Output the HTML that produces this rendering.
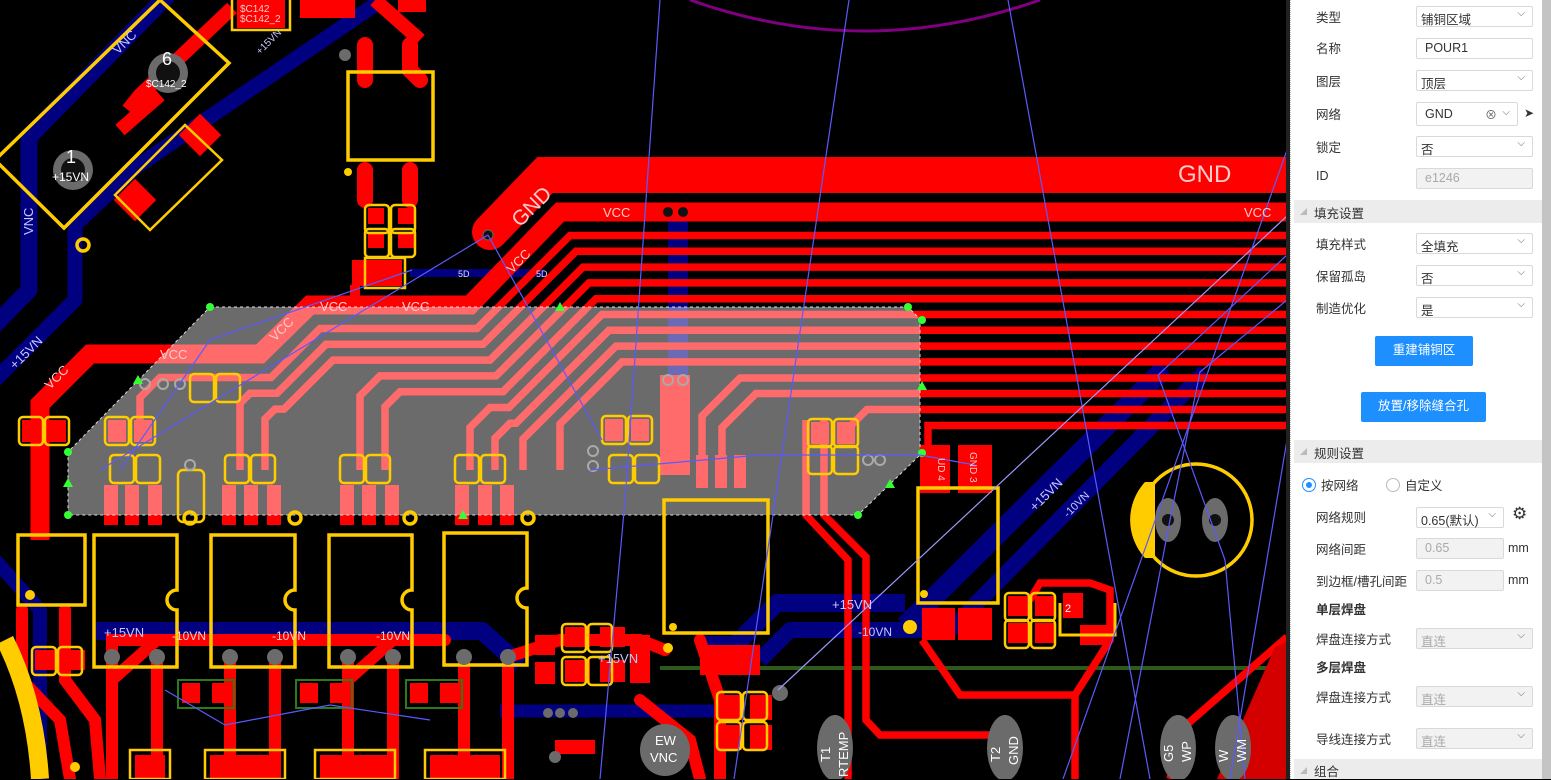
<!DOCTYPE html>
<html><head><meta charset="utf-8"><style>
html,body{margin:0;padding:0;width:1551px;height:779px;overflow:hidden;background:#000;}
#cv{position:absolute;left:0;top:0;}
#panel{position:absolute;left:1290px;top:0;width:252px;height:779px;background:#fff;border-left:1px dotted #bbb;font-family:"Liberation Sans","Noto Sans CJK SC",sans-serif;font-size:12.5px;color:#333;}
#sb{position:absolute;left:1542px;top:0;width:9px;height:779px;background:#c4c4c4;}
.l{position:absolute;left:25px;margin-top:-3px;}
.b{position:absolute;left:125px;width:117px;height:21px;border:1px solid #d9d9d9;border-radius:2px;box-sizing:border-box;padding:2px 0 0 4px;background:#fff;}
.b.d{background:#f2f2f2;color:#aaa;}
.ar{position:absolute;right:7px;top:1px;font-size:10px;color:#666;}
.h{position:absolute;left:3px;width:249px;height:23px;background:#ececec;}
.h span{position:absolute;left:20px;top:3px;}
.h i{position:absolute;left:6px;top:8px;width:0;height:0;border-left:7px solid transparent;border-bottom:7px solid #bbb;}
.btn{position:absolute;background:#1e8fff;color:#fff;text-align:center;border-radius:2px;line-height:29px;}
.bd{font-weight:bold;}
</style></head><body>
<svg id="cv" width="1290" height="779" viewBox="0 0 1290 779" font-family="Liberation Sans, sans-serif">
<defs>
<g id="pp"><rect x="0" y="0" width="18" height="22" fill="#f00"/><rect x="26" y="0" width="18" height="22" fill="#f00"/></g>
<g id="ppo"><rect x="-3" y="-3" width="24" height="28" rx="4" fill="none" stroke="#ffcc00" stroke-width="2.5"/><rect x="23" y="-3" width="24" height="28" rx="4" fill="none" stroke="#ffcc00" stroke-width="2.5"/></g>
</defs>
<rect width="1290" height="779" fill="#000"/>
<path d="M690,0 Q865,62 1040,0" fill="none" stroke="#800080" stroke-width="3"/>
<g fill="none" stroke="#000080" stroke-linejoin="round">
<polyline points="168,-5 29,137 29,290 -10,330" stroke-width="17"/>
<polyline points="385,-2 136,167 75,225 75,300 -5,380" stroke-width="15"/>
<polyline points="1165,368 905,626" stroke-width="20"/>
<polyline points="1205,372 950,630 790,630 760,660" stroke-width="16"/>
<polyline points="905,603 777,603 735,645 700,645" stroke-width="18"/>
<polyline points="94,631 482,631 520,665" stroke-width="18"/>
<polyline points="500,711 720,711" stroke-width="13"/>
<polyline points="410,273 545,273" stroke-width="8"/>
<polyline points="-5,560 40,610 40,779" stroke-width="14"/>
<rect x="668" y="212" width="20" height="258" fill="#000080" stroke="none"/>
</g>
<line x1="660" y1="668" x2="1290" y2="668" stroke="#2d5a1a" stroke-width="4"/>
<g fill="none" stroke="#f00" stroke-linejoin="miter">
<polyline points="1300,175 545,175 490,232" stroke-width="36" stroke-linecap="round"/>
<polyline points="1300,212 560,212 470,305 310,305 260,354 90,354 40,404 40,540" stroke-width="19"/>
<g stroke-width="7.5">
<polyline points="1300,235.5 570,235.5 477,328.5 320,328.5 271,377.5 160,377.5 140,397.5 140,440"/>
<polyline points="1300,251.3 576,251.3 483,344.3 326,344.3 277,393.3 250,393.3 240,403.3 240,470"/>
<polyline points="1300,267.1 583,267.1 490,360.1 333,360.1 284,409.1 275,409.1 265,419 265,470"/>
<polyline points="1300,282.9 589,282.9 496,375.9 380,375.9 360,395.9 360,470"/>
<polyline points="1300,298.7 596,298.7 503,391.7 400,391.7 385,406.7 385,470"/>
<polyline points="1300,314.5 602,314.5 509,407.5 490,407.5 470,427.5 470,470"/>
<polyline points="1300,330.3 609,330.3 516,423.3 510,423.3 495,438.3 495,470"/>
<polyline points="1300,346.1 616,346.1 523,439.1 523,470"/>
<polyline points="1300,361.9 622,361.9 560,424 560,470"/>
<polyline points="1300,378 740,378 702,416 702,470"/>
<polyline points="1300,393.5 756,393.5 722,427.5 722,470"/>
<polyline points="1300,409.5 867,409.5 850,426.5 850,440"/>
<polyline points="1300,425.5 928,425.5 928,450"/>
<polyline points="806,420 806,515 848,560 848,779"/>
<polyline points="824,420 824,515 866,557 866,720 880,735 1000,735"/>
<polyline points="922,640 960,695 1075,695 1075,779"/>
<polyline points="1075,695 1110,640 1110,590 1090,583 1040,583 1030,600"/>
<polyline points="1287,637 1184,727 1170,779"/>
</g>
<g stroke-width="12" stroke-linecap="round">
<polyline points="112,657 112,640 445,640"/>
<polyline points="112,657 112,779"/><polyline points="157,657 157,779"/><polyline points="230,657 230,779"/><polyline points="275,657 275,779"/>
<polyline points="348,657 348,779"/><polyline points="393,657 393,779"/><polyline points="464,657 464,779"/><polyline points="508,657 508,779"/>
<polyline points="157,640 112,680"/><polyline points="393,640 348,680"/>
<polyline points="22,610 22,680 60,720 70,779"/><polyline points="65,610 65,680 95,720 100,779"/>
<polyline points="508,657 560,640 640,640 665,650"/>
<polyline points="700,640 720,700 720,779"/>
<polyline points="640,700 690,740 700,779"/>
</g>
<polyline points="232,8 140,95 128,110" stroke-width="14"/>
<polyline points="160,95 120,130" stroke-width="14"/>
<polyline points="365,45 365,80" stroke-width="16" stroke-linecap="round"/>
<polyline points="410,45 410,70 420,80" stroke-width="16" stroke-linecap="round"/>
<polyline points="365,170 365,200" stroke-width="16" stroke-linecap="round"/>
<polyline points="410,170 410,200" stroke-width="16" stroke-linecap="round"/>
<polyline points="375,0 420,40" stroke-width="14"/>
<polyline points="355,285 355,300" stroke-width="10"/>
</g>
<g fill="#f00">
<rect x="237" y="0" width="48" height="28"/><rect x="398" y="0" width="28" height="12"/><rect x="300" y="0" width="55" height="18"/>
<rect x="185" y="120" width="30" height="30" transform="rotate(45 200 135)"/>
<rect x="120" y="185" width="30" height="30" transform="rotate(45 135 200)"/>
<rect x="352" y="260" width="50" height="26"/>
<rect x="368" y="208" width="16" height="16"/><rect x="398" y="208" width="16" height="16"/>
<rect x="368" y="232" width="16" height="16"/><rect x="398" y="232" width="16" height="16"/>
<rect x="104" y="485" width="14" height="40"/><rect x="125" y="485" width="14" height="40"/><rect x="148" y="485" width="14" height="40"/>
<rect x="222" y="485" width="14" height="40"/><rect x="244" y="485" width="14" height="40"/><rect x="267" y="485" width="14" height="40"/>
<rect x="340" y="485" width="14" height="40"/><rect x="362" y="485" width="14" height="40"/><rect x="385" y="485" width="14" height="40"/>
<rect x="455" y="485" width="14" height="40"/><rect x="478" y="485" width="14" height="40"/><rect x="500" y="485" width="14" height="40"/>
<rect x="660" y="375" width="30" height="100"/>
<rect x="696" y="455" width="12" height="33"/><rect x="715" y="455" width="12" height="33"/><rect x="734" y="455" width="12" height="33"/>
<rect x="920" y="445" width="30" height="48"/><rect x="958" y="445" width="34" height="48"/>
<rect x="922" y="608" width="33" height="32"/><rect x="958" y="608" width="34" height="32"/>
<rect x="1008" y="596" width="20" height="20"/><rect x="1035" y="596" width="20" height="20"/>
<rect x="1008" y="623" width="20" height="20"/><rect x="1035" y="623" width="20" height="20"/>
<rect x="1063" y="593" width="20" height="25"/>
<rect x="1080" y="625" width="30" height="20"/>
<polygon points="1217,779 1275,647 1290,640 1290,779" fill="#d40000"/>
<rect x="182" y="683" width="18" height="20"/><rect x="212" y="683" width="18" height="20"/>
<rect x="300" y="683" width="18" height="20"/><rect x="330" y="683" width="18" height="20"/>
<rect x="410" y="683" width="18" height="20"/><rect x="440" y="683" width="18" height="20"/>
<rect x="535" y="635" width="20" height="20"/><rect x="535" y="662" width="20" height="22"/>
<rect x="565" y="627" width="25" height="20"/><rect x="600" y="627" width="25" height="20"/>
<rect x="565" y="660" width="25" height="22"/><rect x="600" y="660" width="25" height="22"/>
<rect x="630" y="635" width="20" height="48"/>
<rect x="720" y="695" width="22" height="25"/><rect x="750" y="695" width="22" height="25"/>
<rect x="720" y="725" width="22" height="25"/><rect x="750" y="725" width="22" height="25"/>
<rect x="135" y="755" width="30" height="24"/><rect x="210" y="755" width="70" height="24"/><rect x="320" y="755" width="70" height="24"/><rect x="430" y="755" width="70" height="24"/>
<rect x="555" y="740" width="40" height="14"/><rect x="35" y="650" width="50" height="20"/>
<rect x="700" y="645" width="60" height="30"/>
<rect x="22" y="420" width="18" height="22"/><rect x="48" y="420" width="18" height="22"/>
<rect x="108" y="420" width="18" height="22"/><rect x="134" y="420" width="18" height="22"/>
<rect x="605" y="419" width="18" height="22"/><rect x="631" y="419" width="18" height="22"/>
<rect x="811" y="422" width="18" height="22"/><rect x="837" y="422" width="18" height="22"/>
</g>
<polygon points="210,307 908,307 920,319 920,455 858,515 68,515 68,452" fill="#fff" fill-opacity="0.42" stroke="#ddd" stroke-width="1" stroke-dasharray="3,3"/>
<g>
<use href="#ppo" x="113" y="458"/><use href="#ppo" x="228" y="458"/><use href="#ppo" x="343" y="458"/><use href="#ppo" x="458" y="458"/>
<use href="#ppo" x="22" y="420"/><use href="#ppo" x="108" y="420"/><use href="#ppo" x="193" y="377"/>
<use href="#ppo" x="605" y="419"/><use href="#ppo" x="612" y="458"/>
<use href="#ppo" x="811" y="422"/><use href="#ppo" x="811" y="449"/>
<use href="#ppo" x="35" y="650"/>
<use href="#ppo" x="565" y="627"/><use href="#ppo" x="565" y="660"/>
<use href="#ppo" x="720" y="695"/><use href="#ppo" x="720" y="725"/>
<use href="#ppo" x="1008" y="596"/><use href="#ppo" x="1008" y="623"/>
<use href="#ppo" x="368" y="208"/><use href="#ppo" x="368" y="232"/>
</g>
<g fill="none" stroke="#ffcc00" stroke-width="3.5">
<polygon points="160,0 229,63 64,228 -5,160"/>
<polygon points="185,125 222,160 150,230 115,195" stroke-width="2.5"/>
<rect x="348" y="72" width="85" height="88"/>
<rect x="232" y="-5" width="58" height="35" stroke-width="2.5"/>
<rect x="365" y="258" width="40" height="30" stroke-width="2.5"/>
<path d="M94,535 H177 V590 A10,10 0 0 0 177,610 V667 H94 Z"/>
<path d="M211,535 H295 V590 A10,10 0 0 0 295,610 V667 H211 Z"/>
<path d="M329,535 H412 V590 A10,10 0 0 0 412,610 V667 H329 Z"/>
<path d="M444,533 H527 V588 A10,10 0 0 0 527,608 V665 H444 Z"/>
<rect x="18" y="535" width="67" height="70"/>
<rect x="664" y="500" width="104" height="133"/>
<rect x="918" y="488" width="80" height="115"/>
<circle cx="1196" cy="520" r="56"/>
<rect x="178" y="470" width="26" height="52" rx="5" stroke-width="2.5"/>
<path d="M1060,603 V635 H1115 V603" stroke-width="3"/>
<rect x="178" y="680" width="56" height="28" stroke="#2d7a1a" stroke-width="2"/>
<rect x="296" y="680" width="56" height="28" stroke="#2d7a1a" stroke-width="2"/>
<rect x="406" y="680" width="56" height="28" stroke="#2d7a1a" stroke-width="2"/>
<rect x="130" y="750" width="40" height="29" stroke-width="2.5"/>
<rect x="205" y="750" width="80" height="29" stroke-width="2.5"/>
<rect x="315" y="750" width="80" height="29" stroke-width="2.5"/>
<rect x="425" y="750" width="80" height="29" stroke-width="2.5"/>
<path d="M5,640 Q35,700 40,779" stroke-width="18"/>
<circle cx="83" cy="245" r="6"/><circle cx="295" cy="518" r="6"/><circle cx="410" cy="518" r="6"/><circle cx="528" cy="518" r="6"/><circle cx="190" cy="518" r="6"/>
</g>
<path d="M1145,482 A56,56 0 0 0 1145,558 L1155,558 L1155,482 Z" fill="#ffcc00"/>
<g fill="#ffcc00"><circle cx="348" cy="172" r="4"/><circle cx="673" cy="627" r="4"/><circle cx="924" cy="594" r="4"/><circle cx="910" cy="627" r="7"/><circle cx="30" cy="595" r="5"/><circle cx="75" cy="767" r="5"/><circle cx="668" cy="648" r="5"/></g>
<g fill="#6b6b6b">
<circle cx="168" cy="73" r="20"/><circle cx="73" cy="170" r="20"/>
<circle cx="112" cy="657" r="8"/><circle cx="157" cy="657" r="8"/><circle cx="230" cy="657" r="8"/><circle cx="275" cy="657" r="8"/>
<circle cx="348" cy="657" r="8"/><circle cx="393" cy="657" r="8"/><circle cx="464" cy="657" r="8"/><circle cx="508" cy="657" r="8"/>
<ellipse cx="665" cy="750" rx="25" ry="26"/><ellipse cx="835" cy="748" rx="18" ry="33"/><ellipse cx="1005" cy="748" rx="18" ry="33"/>
<ellipse cx="1178" cy="748" rx="18" ry="33"/><ellipse cx="1233" cy="748" rx="18" ry="33"/>
<ellipse cx="1168" cy="520" rx="13" ry="22"/><ellipse cx="1215" cy="520" rx="13" ry="22"/>
<circle cx="555" cy="757" r="6"/><circle cx="548" cy="713" r="5"/><circle cx="560" cy="713" r="5"/><circle cx="573" cy="713" r="5"/>
<circle cx="780" cy="693" r="8"/><circle cx="345" cy="55" r="6"/>
</g>
<g fill="#111"><circle cx="168" cy="73" r="12"/><circle cx="73" cy="170" r="12"/><circle cx="668" cy="212" r="5"/><circle cx="683" cy="212" r="5"/><circle cx="488" cy="235" r="5" stroke="#666"/><circle cx="1168" cy="520" r="6"/><circle cx="1215" cy="520" r="6"/></g>
<g fill="none" stroke="#aaa" stroke-width="2"><circle cx="145" cy="384" r="5"/><circle cx="163" cy="384" r="5"/><circle cx="180" cy="384" r="5"/><circle cx="190" cy="465" r="5"/><circle cx="593" cy="451" r="5"/><circle cx="593" cy="466" r="5"/><circle cx="668" cy="380" r="5"/><circle cx="683" cy="380" r="5"/><circle cx="868" cy="460" r="5"/><circle cx="880" cy="460" r="5"/></g>
<g fill="#3f3"><circle cx="210" cy="307" r="4"/><circle cx="908" cy="307" r="4"/><circle cx="922" cy="320" r="4"/><circle cx="922" cy="453" r="4"/><circle cx="858" cy="515" r="4"/><circle cx="68" cy="515" r="4"/><circle cx="68" cy="452" r="4"/>
<polygon points="560,302 565,311 555,311"/><polygon points="922,381 927,390 917,390"/><polygon points="890,479 895,488 885,488"/><polygon points="463,510 468,519 458,519"/><polygon points="138,375 143,384 133,384"/><polygon points="68,478 73,487 63,487"/></g>
<g stroke="#5a5aff" stroke-width="1.2" fill="none">
<line x1="849" y1="0" x2="734" y2="779"/><line x1="1008" y1="0" x2="1150" y2="779"/>
<line x1="1287" y1="216" x2="778" y2="690" stroke="#9a9aff"/>
<line x1="1287" y1="150" x2="1063" y2="779"/>
<polyline points="1287,255 1158,375 1225,560 1245,779"/>
<polyline points="1287,300 1200,372 1170,520 1120,779"/>
<line x1="1287" y1="440" x2="1230" y2="779"/>
<polyline points="660,0 625,500 600,779"/>
<line x1="488" y1="235" x2="100" y2="470"/><line x1="488" y1="235" x2="602" y2="440"/>
<polyline points="412,270 210,340 120,470"/>
<polyline points="590,470 760,455 920,455 975,465"/>
<polyline points="165,690 225,725 330,705 430,720"/>
</g>
<g fill="#ffcaca" font-size="13">
<text x="1178" y="182" font-size="24">GND</text>
<text x="520" y="228" font-size="21" transform="rotate(-45 520 228)">GND</text>
<text x="603" y="217">VCC</text><text x="1244" y="217">VCC</text>
<text x="320" y="311">VCC</text><text x="402" y="311">VCC</text><text x="160" y="359">VCC</text>
<text x="512" y="274" transform="rotate(-45 512 274)">VCC</text>
<text x="275" y="342" transform="rotate(-45 275 342)">VCC</text>
<text x="50" y="390" transform="rotate(-45 50 390)">VCC</text>
<text x="458" y="277" font-size="9" fill="#ddd">5D</text><text x="536" y="277" font-size="9" fill="#ddd">5D</text>
<text x="938" y="458" font-size="10" transform="rotate(90 938 458)">UD 4</text>
<text x="970" y="452" font-size="10" transform="rotate(90 970 452)">GND 3</text>
<text x="240" y="12" font-size="10">$C142</text><text x="240" y="22" font-size="10">$C142_2</text>
</g>
<g fill="#c8c8ff" font-size="13">
<text x="118" y="55" transform="rotate(-45 118 55)">VNC</text>
<text x="33" y="235" transform="rotate(-90 33 235)">VNC</text>
<text x="15" y="370" transform="rotate(-45 15 370)">+15VN</text>
<text x="260" y="55" font-size="10" transform="rotate(-45 260 55)">+15VN</text>
<text x="1035" y="512" transform="rotate(-45 1035 512)">+15VN</text>
<text x="1068" y="518" font-size="11" transform="rotate(-45 1068 518)">-10VN</text>
<text x="832" y="609">+15VN</text><text x="858" y="636" font-size="12">-10VN</text>
<text x="104" y="637">+15VN</text><text x="598" y="663">+15VN</text>
</g>
<g fill="#fff" font-size="13">
<text x="162" y="65" font-size="18">6</text><text x="66" y="163" font-size="18">1</text>
<text x="146" y="87" font-size="10">$C142_2</text><text x="52" y="181" font-size="12">+15VN</text>
<text x="172" y="640" font-size="12" fill="#ffd0d0">-10VN</text><text x="272" y="640" font-size="12" fill="#ffd0d0">-10VN</text><text x="376" y="640" font-size="12" fill="#ffd0d0">-10VN</text>
<text x="655" y="745" font-size="13">EW</text><text x="650" y="762" font-size="13">VNC</text>
<text x="830" y="762" transform="rotate(-90 830 762)">T1</text><text x="848" y="777" transform="rotate(-90 848 777)">RTEMP</text>
<text x="1000" y="762" transform="rotate(-90 1000 762)">T2</text><text x="1018" y="765" transform="rotate(-90 1018 765)">GND</text>
<text x="1173" y="762" transform="rotate(-90 1173 762)">G5</text><text x="1191" y="762" transform="rotate(-90 1191 762)">WP</text>
<text x="1228" y="762" transform="rotate(-90 1228 762)">W</text><text x="1246" y="762" transform="rotate(-90 1246 762)">WM</text>
<text x="1065" y="612" font-size="11">2</text>
</g>
<rect x="1286" y="0" width="4" height="779" fill="#222"/>
</svg>
<div id="panel">
<div class="l" style="top:10px">类型</div><div class="b" style="top:6px">铺铜区域<span class="ar">⌵</span></div>
<div class="l" style="top:41px">名称</div><div class="b" style="top:38px;padding-left:8px">POUR1</div>
<div class="l" style="top:74px">图层</div><div class="b" style="top:70px">顶层<span class="ar">⌵</span></div>
<div class="l" style="top:107px">网络</div><div class="b" style="top:102px;width:102px;height:24px;padding:4px 0 0 8px">GND<span class="ar" style="right:20px;font-size:12px;top:3px">⊗</span><span class="ar" style="top:4px">⌵</span></div>
<div style="position:absolute;left:233px;top:106px;font-size:12px">➤</div>
<div class="l" style="top:140px">锁定</div><div class="b" style="top:136px">否<span class="ar">⌵</span></div>
<div class="l" style="top:172px">ID</div><div class="b d" style="top:168px;padding-left:8px">e1246</div>
<div class="h" style="top:200px"><i></i><span>填充设置</span></div>
<div class="l" style="top:237px">填充样式</div><div class="b" style="top:233px">全填充<span class="ar">⌵</span></div>
<div class="l" style="top:269px">保留孤岛</div><div class="b" style="top:265px">否<span class="ar">⌵</span></div>
<div class="l" style="top:301px">制造优化</div><div class="b" style="top:297px">是<span class="ar">⌵</span></div>
<div class="btn" style="left:84px;top:336px;width:98px;height:30px">重建铺铜区</div>
<div class="btn" style="left:70px;top:392px;width:125px;height:30px">放置/移除缝合孔</div>
<div class="h" style="top:440px"><i></i><span>规则设置</span></div>
<div style="position:absolute;left:11px;top:478px;width:12px;height:12px;border:1px solid #1e8fff;border-radius:50%"><div style="position:absolute;left:3px;top:3px;width:6px;height:6px;background:#1e8fff;border-radius:50%"></div></div>
<div style="position:absolute;left:30px;top:475px">按网络</div>
<div style="position:absolute;left:95px;top:478px;width:12px;height:12px;border:1px solid #bbb;border-radius:50%"></div>
<div style="position:absolute;left:114px;top:475px">自定义</div>
<div class="l" style="top:510px">网络规则</div><div class="b" style="top:507px;width:88px">0.65(默认)<span class="ar">⌵</span></div>
<div style="position:absolute;left:221px;top:504px;font-size:17px">⚙</div>
<div class="l" style="top:542px">网络间距</div><div class="b d" style="top:538px;width:88px;padding-left:8px">0.65</div><div style="position:absolute;left:217px;top:541px">mm</div>
<div class="l" style="top:574px">到边框/槽孔间距</div><div class="b d" style="top:570px;width:88px;padding-left:8px">0.5</div><div style="position:absolute;left:217px;top:573px">mm</div>
<div class="l bd" style="top:602px">单层焊盘</div>
<div class="l" style="top:632px">焊盘连接方式</div><div class="b d" style="top:628px">直连<span class="ar">⌵</span></div>
<div class="l bd" style="top:660px">多层焊盘</div>
<div class="l" style="top:690px">焊盘连接方式</div><div class="b d" style="top:686px">直连<span class="ar">⌵</span></div>
<div class="l" style="top:732px">导线连接方式</div><div class="b d" style="top:728px">直连<span class="ar">⌵</span></div>
<div class="h" style="top:759px;height:20px"><i></i><span style="top:2px">组合</span></div>
</div>
<div id="sb"></div>
</body></html>
